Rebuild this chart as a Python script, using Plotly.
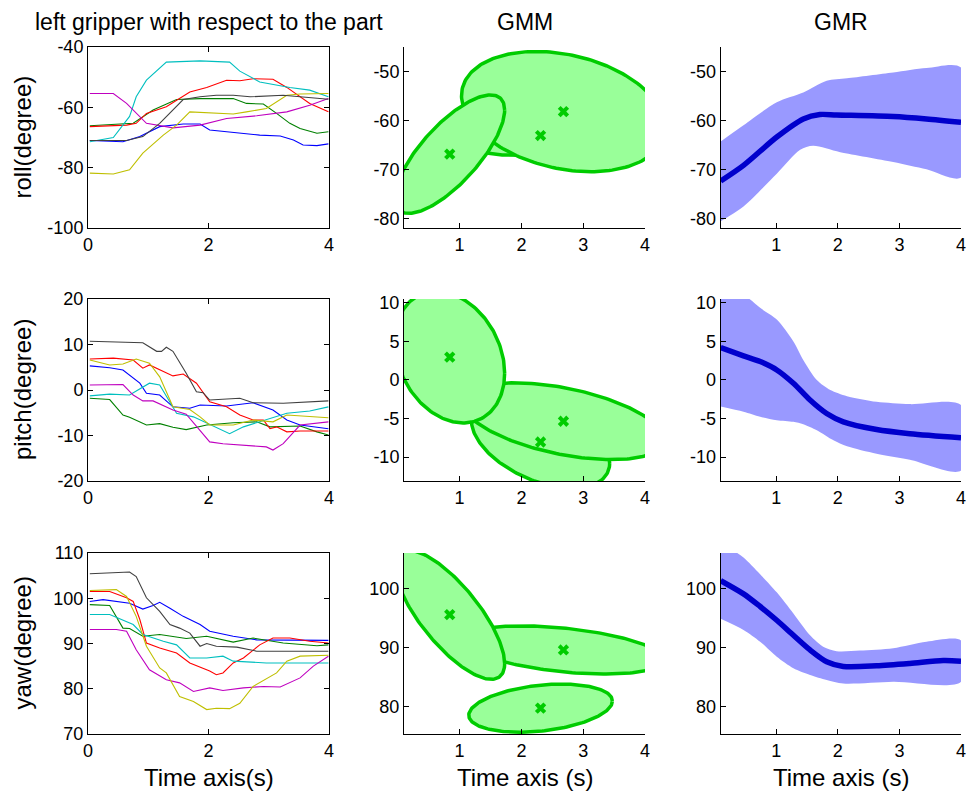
import numpy as np
import plotly.graph_objects as go

# ---------------- DATA ----------------
# Column 1: demonstrations (time samples, values) per MATLAB colour
roll_b_t = [0.03, 0.58, 0.86, 1.19, 1.58, 1.86, 2.02, 2.52, 2.85, 3.19, 3.41, 3.57, 3.8, 3.99]
roll_b_v = [-71, -71.4, -69.7, -66.4, -65.5, -65.5, -67.5, -68.4, -69.2, -69.5, -70.8, -72.5, -72.7, -72.1]
roll_g_t = [0.03, 0.75, 1.08, 1.47, 1.86, 2.41, 2.63, 2.91, 3.13, 3.35, 3.52, 3.8, 3.99]
roll_g_v = [-66.1, -65.3, -60.9, -57.4, -57.1, -57.1, -58.7, -58.9, -62, -65.3, -67, -68.6, -68.1]
roll_r_t = [0.03, 0.64, 0.8, 0.97, 1.3, 1.69, 1.97, 2.3, 2.52, 2.74, 3.07, 3.3, 3.68, 3.99]
roll_r_v = [-66.4, -65.9, -65.3, -62, -59.8, -54.9, -53.4, -51, -51.2, -50.5, -50.7, -53.4, -58.7, -61.5]
roll_c_t = [0.03, 0.42, 0.69, 0.8, 0.97, 1.3, 1.86, 2.35, 2.52, 2.85, 3.35, 3.68, 3.99]
roll_c_v = [-71.4, -70, -63, -56.5, -51, -45, -44.6, -45, -48, -51.6, -53.4, -54.3, -56.5]
roll_m_t = [0.03, 0.42, 0.64, 0.97, 1.41, 1.63, 1.86, 2.3, 2.8, 3.3, 3.68, 3.99]
roll_m_v = [-55.4, -55.4, -58.7, -65.3, -66.8, -66.4, -65.9, -63.7, -62.8, -61.5, -59.3, -57.1]
roll_y_t = [0.03, 0.42, 0.69, 0.91, 1.25, 1.47, 1.69, 2.08, 2.41, 2.63, 2.96, 3.3, 3.52, 3.99]
roll_y_v = [-81.8, -82.1, -80.7, -75.2, -69.2, -65.9, -61.5, -62, -62.2, -61.5, -60.4, -56, -55.6, -55.4]
roll_k_t = [0.03, 0.64, 0.91, 1.19, 1.58, 1.86, 2.13, 2.41, 2.69, 3.24, 3.52, 3.99]
roll_k_v = [-71, -71, -69.7, -65.3, -57.4, -56.5, -56, -56, -56.5, -56, -56.5, -57.3]

pitch_b_t = [0.03, 0.36, 0.58, 0.86, 0.97, 1.19, 1.41, 1.69, 1.86, 2.3, 2.74, 3.07, 3.3, 3.52, 3.99]
pitch_b_v = [5.3, 4.9, 4.4, 1.5, -0.7, -1.1, -3.7, -4, -3.3, -3.5, -2.8, -4.4, -6.6, -7.7, -8.5]
pitch_g_t = [0.03, 0.36, 0.58, 0.69, 0.97, 1.19, 1.41, 1.63, 1.97, 2.41, 2.8, 3.02, 3.52, 3.8, 3.99]
pitch_g_v = [-1.8, -2.1, -5.5, -6, -7.7, -7.4, -8.2, -8.7, -7.7, -7.2, -7, -8.1, -7.9, -9.2, -9.9]
pitch_r_t = [0.03, 0.42, 0.75, 0.91, 1.02, 1.41, 1.58, 1.8, 2.02, 2.3, 2.52, 2.74, 2.91, 3.02, 3.13, 3.3, 3.52, 3.99]
pitch_r_v = [6.8, 7, 6.6, 4.8, 5.5, 3.1, 3.5, 1.5, -2.6, -3.7, -5.5, -6.6, -6.6, -8.5, -8.1, -9.2, -9, -9]
pitch_c_t = [0.03, 0.36, 0.69, 1.02, 1.19, 1.47, 1.75, 1.97, 2.35, 2.58, 2.96, 3.3, 3.68, 3.99]
pitch_c_v = [-1.3, -0.9, -1.1, 1.5, 1.1, -5.1, -5.9, -7.2, -9.6, -8.1, -6.6, -5.1, -4.6, -3.7]
pitch_m_t = [0.03, 0.58, 0.75, 0.91, 1.08, 1.41, 1.63, 1.86, 2.02, 2.24, 2.58, 2.96, 3.07, 3.24, 3.52, 3.99]
pitch_m_v = [1.1, 1.2, -1.1, -2.4, -2.4, -4.4, -5.3, -8.8, -11.4, -11.8, -12.1, -12.5, -13.2, -11.8, -7.7, -7]
pitch_y_t = [0.03, 0.36, 0.58, 0.8, 1.02, 1.19, 1.41, 1.69, 1.86, 2.02, 2.41, 2.74, 3.07, 3.3, 3.99]
pitch_y_v = [6.6, 5.5, 5.7, 6.8, 5.9, 2.9, -3.7, -4.3, -5.9, -7.7, -7.7, -6.6, -7, -5.5, -6.1]
pitch_k_t = [0.03, 0.91, 1.14, 1.22, 1.3, 1.41, 1.63, 1.8, 1.91, 2.02, 2.52, 2.74, 3.24, 3.99]
pitch_k_v = [10.7, 10.4, 8.5, 8.5, 9.4, 8.5, 3.7, -0.4, -0.6, -2.2, -1.8, -2.8, -2.9, -2.4]

yaw_b_t = [0.03, 0.25, 0.69, 0.91, 1.08, 1.19, 1.36, 1.58, 1.86, 2.02, 2.41, 2.8, 3.99]
yaw_b_v = [99.3, 99.7, 98.9, 97.6, 98.4, 99.1, 97.8, 96, 94.2, 92.7, 91.6, 90.8, 90.7]
yaw_g_t = [0.03, 0.36, 0.58, 0.69, 0.91, 1.19, 1.63, 1.97, 2.41, 2.74, 3.24, 3.8, 3.99]
yaw_g_v = [98.6, 98.4, 93.4, 93.3, 91.6, 92, 91.1, 91.6, 90.3, 91.2, 90.1, 89.5, 89.7]
yaw_r_t = [0.03, 0.36, 0.64, 0.75, 0.86, 0.97, 1.19, 1.47, 1.69, 2.02, 2.13, 2.24, 2.41, 2.58, 2.85, 3.07, 3.35, 3.68, 3.99]
yaw_r_v = [101.5, 101.5, 100.1, 99.3, 95.3, 90.1, 89, 87.9, 85.7, 83.9, 83.1, 83.5, 85.7, 86.8, 89.7, 91.2, 91.2, 90.5, 90.1]
yaw_c_t = [0.03, 0.36, 0.75, 0.91, 1.25, 1.47, 1.69, 1.97, 2.24, 2.41, 2.96, 3.99]
yaw_c_v = [96.4, 96.4, 94.2, 92, 90.5, 89.7, 86.8, 86.8, 87.2, 86.1, 85.7, 85.7]
yaw_m_t = [0.03, 0.47, 0.64, 0.8, 1.02, 1.3, 1.52, 1.75, 2.02, 2.24, 2.58, 2.91, 3.19, 3.52, 3.74, 3.99]
yaw_m_v = [93.1, 93.1, 92.7, 88.6, 84.2, 82, 81.3, 79.4, 80.2, 79.6, 80.2, 80.5, 80.4, 82.4, 85, 87.2]
yaw_y_t = [0.03, 0.47, 0.64, 0.8, 0.97, 1.19, 1.3, 1.52, 1.75, 1.97, 2.13, 2.35, 2.52, 2.74, 3.13, 3.3, 3.52, 3.99]
yaw_y_v = [101.7, 101.9, 100.4, 96, 89.4, 84.6, 83.5, 78.3, 77.2, 75.4, 75.7, 75.6, 76.8, 80.5, 83.5, 86.1, 87.2, 87.4]
yaw_k_t = [0.03, 0.69, 0.8, 0.97, 1.19, 1.36, 1.52, 1.69, 1.86, 1.97, 2.13, 2.47, 2.8, 3.99]
yaw_k_v = [105.4, 105.8, 104.8, 100.1, 97.1, 94.2, 93.4, 92.3, 89.4, 90, 89.4, 89.2, 88.3, 88.3]

# Column 2: GMM components (drawn 3, 2, 1): centres and covariances [var_t, cov, var_y]
gmm_mu_t = [0.84, 2.68, 2.31]
roll_mu = [-66.9, -58.2, -63.1]
roll_cov = [[0.79, 8.0, 146.4], [2.72, -5.4, 151.0], [1.3, 1.62, 16.4]]
pitch_mu = [2.96, -5.35, -8.04]
pitch_cov = [[0.79, -1.85, 72.8], [2.65, -3.88, 24.8], [1.25, -3.08, 36.0]]
yaw_mu = [95.6, 89.6, 79.7]
yaw_cov = [[0.79, -7.4, 121.0], [2.7, -2.79, 16.8], [1.35, 1.4, 16.8]]

# Column 3: GMR mean and envelope
roll_mean_t = [0.1, 0.47, 1.01, 1.44, 1.71, 1.98, 2.9, 3.44, 4.0]
roll_mean = [-72.4, -69.2, -63.4, -59.7, -58.8, -58.9, -59.2, -59.7, -60.4]
roll_up_t = [0.1, 0.47, 1.01, 1.44, 1.82, 2.15, 2.9, 3.44, 4.0]
roll_up = [-64.3, -61, -56.3, -54.3, -51.9, -51.4, -50.2, -49.3, -49.2]
roll_lo_t = [0.1, 0.47, 1.01, 1.39, 1.6, 2.04, 2.9, 3.44, 4.0]
roll_lo = [-80.6, -77.6, -70.9, -66, -65.2, -66.5, -68.5, -70, -71.7]

pitch_mean_t = [0.1, 0.47, 0.74, 1.01, 1.28, 1.55, 1.82, 2.09, 2.63, 3.17, 4.0]
pitch_mean = [4.2, 3.13, 2.39, 1.3, -0.43, -2.6, -4.35, -5.43, -6.43, -6.96, -7.48]
pitch_up_t = [0.1, 0.3, 0.55, 0.74, 1.01, 1.28, 1.44, 1.66, 1.88, 2.15, 2.63, 3.17, 4.0]
pitch_up = [12.3, 11.7, 10.6, 9.35, 7.83, 5.0, 2.6, 0.0, -1.3, -2.1, -2.83, -3.13, -3.26]
pitch_lo_t = [0.1, 0.47, 0.74, 1.01, 1.28, 1.44, 1.66, 1.93, 2.15, 2.63, 3.17, 4.0]
pitch_lo = [-3.45, -4.13, -4.78, -5.22, -5.43, -5.74, -6.52, -7.83, -8.6, -9.57, -10.35, -11.74]

yaw_mean_t = [0.1, 0.47, 0.74, 1.01, 1.28, 1.55, 1.82, 2.09, 2.63, 3.17, 3.71, 4.0]
yaw_mean = [101.4, 99.15, 97, 94.65, 92.1, 89.6, 87.6, 86.8, 86.9, 87.3, 87.8, 87.7]
yaw_up_t = [0.1, 0.3, 0.47, 0.74, 1.01, 1.28, 1.55, 1.77, 1.98, 2.36, 2.9, 3.44, 4.0]
yaw_up = [108.5, 106.6, 105.35, 102.5, 99.4, 95.8, 92.1, 90.1, 89.4, 89.5, 89.9, 91.0, 91.2]
yaw_lo_t = [0.1, 0.47, 0.74, 1.01, 1.28, 1.55, 1.82, 2.09, 2.9, 4.0]
yaw_lo = [94.9, 93, 91, 88.45, 86.5, 85.35, 84.5, 83.9, 84.2, 84.2]

# Axis ranges and ticks
demo_ranges = [[-100, -40], [-20, 20], [70, 110]]
demo_ticks = [[-100, -80, -60, -40], [-20, -10, 0, 10, 20], [70, 80, 90, 100, 110]]
model_ranges = [[-82, -45], [-13.1, 10.5], [75.3, 106.1]]
model_ticks = [[-80, -70, -60, -50], [-10, -5, 0, 5, 10], [80, 90, 100]]
demo_xticks = [0, 2, 4]
model_xticks = [1, 2, 3, 4]
row_labels = ["roll(degree)", "pitch(degree)", "yaw(degree)"]
col_titles = ["left gripper with respect to the part", "GMM", "GMR"]
xlabels = ["Time axis(s)", "Time axis (s)", "Time axis (s)"]

# ---------------- STYLE ----------------
W, H = 968, 797
FONT = "Liberation Sans, Arial, sans-serif"
mcol = {"b": "#0000FF", "g": "#008000", "r": "#FF0000", "c": "#00BFBF",
        "m": "#BF00BF", "y": "#BFBF00", "k": "#404040"}
col_px = [(88, 329), (404, 645), (720.7, 961)]
row_px = [(47, 228), (299, 481), (553, 734)]


def lbl(v):
    return ("-" if v < 0 else "") + ("%g" % abs(v))


demos = [
    [("b", roll_b_t, roll_b_v), ("g", roll_g_t, roll_g_v), ("r", roll_r_t, roll_r_v),
     ("c", roll_c_t, roll_c_v), ("m", roll_m_t, roll_m_v), ("y", roll_y_t, roll_y_v),
     ("k", roll_k_t, roll_k_v)],
    [("b", pitch_b_t, pitch_b_v), ("g", pitch_g_t, pitch_g_v), ("r", pitch_r_t, pitch_r_v),
     ("c", pitch_c_t, pitch_c_v), ("m", pitch_m_t, pitch_m_v), ("y", pitch_y_t, pitch_y_v),
     ("k", pitch_k_t, pitch_k_v)],
    [("b", yaw_b_t, yaw_b_v), ("g", yaw_g_t, yaw_g_v), ("r", yaw_r_t, yaw_r_v),
     ("c", yaw_c_t, yaw_c_v), ("m", yaw_m_t, yaw_m_v), ("y", yaw_y_t, yaw_y_v),
     ("k", yaw_k_t, yaw_k_v)],
]
gmms = [(roll_mu, roll_cov), (pitch_mu, pitch_cov), (yaw_mu, yaw_cov)]
gmrs = [
    (roll_mean_t, roll_mean, roll_up_t, roll_up, roll_lo_t, roll_lo),
    (pitch_mean_t, pitch_mean, pitch_up_t, pitch_up, pitch_lo_t, pitch_lo),
    (yaw_mean_t, yaw_mean, yaw_up_t, yaw_up, yaw_lo_t, yaw_lo),
]

fig = go.Figure()
layout = dict(width=W, height=H, autosize=False, margin=dict(l=0, r=0, t=0, b=0, pad=0),
              paper_bgcolor="white", plot_bgcolor="white", showlegend=False,
              font=dict(family=FONT, color="black"))

ang = np.linspace(0, 2 * np.pi, 200)
annotations = []
n = 0
for r in range(3):
    for c in range(3):
        n += 1
        xa = "x" if n == 1 else "x%d" % n
        ya = "y" if n == 1 else "y%d" % n
        xkey = "xaxis" if n == 1 else "xaxis%d" % n
        ykey = "yaxis" if n == 1 else "yaxis%d" % n
        x0, x1 = col_px[c]
        y0, y1 = row_px[r]
        if c == 0:
            xr, xt = [0, 4], demo_xticks
            yr, yt = demo_ranges[r], demo_ticks[r]
            mirror = "ticks"
        else:
            xr, xt = [0.1, 4], model_xticks
            yr, yt = model_ranges[r], model_ticks[r]
            mirror = False
        common = dict(showgrid=False, zeroline=False, showline=True, linecolor="black",
                      linewidth=1, ticks="inside", ticklen=5, tickcolor="black",
                      tickfont=dict(size=18, family=FONT, color="black"), mirror=mirror,
                      automargin=False)
        layout[xkey] = dict(domain=[x0 / W, x1 / W], range=xr, tickvals=xt,
                            ticktext=[lbl(v) for v in xt], anchor=ya, **common)
        layout[ykey] = dict(domain=[1 - y1 / H, 1 - y0 / H], range=yr, tickvals=yt,
                            ticktext=[lbl(v) for v in yt], anchor=xa, **common)

        if c == 0:
            for key, t, v in demos[r]:
                fig.add_trace(go.Scatter(x=t, y=v, mode="lines", xaxis=xa, yaxis=ya,
                                         line=dict(color=mcol[key], width=1.1)))
        elif c == 1:
            mu, cov = gmms[r]
            for k in [2, 1, 0]:
                a, b, cc = cov[k]
                L = np.linalg.cholesky(np.array([[a, b], [b, cc]]))
                pts = L @ np.vstack([np.cos(ang), np.sin(ang)])
                fig.add_trace(go.Scatter(x=gmm_mu_t[k] + pts[0], y=mu[k] + pts[1],
                                         mode="lines", fill="toself", fillcolor="#99FF99",
                                         line=dict(color="#00CC00", width=3.5),
                                         xaxis=xa, yaxis=ya))
            fig.add_trace(go.Scatter(x=gmm_mu_t, y=mu, mode="markers", xaxis=xa, yaxis=ya,
                                     marker=dict(symbol="x", size=10, color="#00CC00",
                                                 line=dict(width=0))))
        else:
            mt, mv, ut, uv, lt, lv = gmrs[r]
            fig.add_trace(go.Scatter(x=list(ut) + list(lt)[::-1], y=list(uv) + list(lv)[::-1],
                                     mode="lines", fill="toself", fillcolor="#9999FF",
                                     line=dict(width=0, color="#9999FF", shape="spline", smoothing=0.8),
                                     xaxis=xa, yaxis=ya))
            fig.add_trace(go.Scatter(x=mt, y=mv, mode="lines", xaxis=xa, yaxis=ya,
                                     line=dict(color="#0000CC", width=5.5, shape="spline",
                                               smoothing=0.8)))

# Titles, axis labels
for c in range(3):
    cx = (col_px[c][0] + col_px[c][1]) / 2 / W
    annotations.append(dict(text=col_titles[c], x=cx, y=1 - 22 / H, xref="paper", yref="paper",
                            showarrow=False, xanchor="center", yanchor="middle",
                            font=dict(size=23, family=FONT, color="black")))
    annotations.append(dict(text=xlabels[c], x=cx, y=1 - 777 / H, xref="paper", yref="paper",
                            showarrow=False, xanchor="center", yanchor="middle",
                            font=dict(size=24, family=FONT, color="black")))
for r in range(3):
    cy = 1 - (row_px[r][0] + row_px[r][1]) / 2 / H
    annotations.append(dict(text=row_labels[r], x=22 / W, y=cy, xref="paper", yref="paper",
                            showarrow=False, xanchor="center", yanchor="middle", textangle=-90,
                            font=dict(size=24, family=FONT, color="black")))

layout["annotations"] = annotations
fig.update_layout(**layout)
fig.write_html("out.html", config={"responsive": False, "displayModeBar": False},
               post_script="document.body.style.margin='0';document.body.style.overflow='hidden';")
